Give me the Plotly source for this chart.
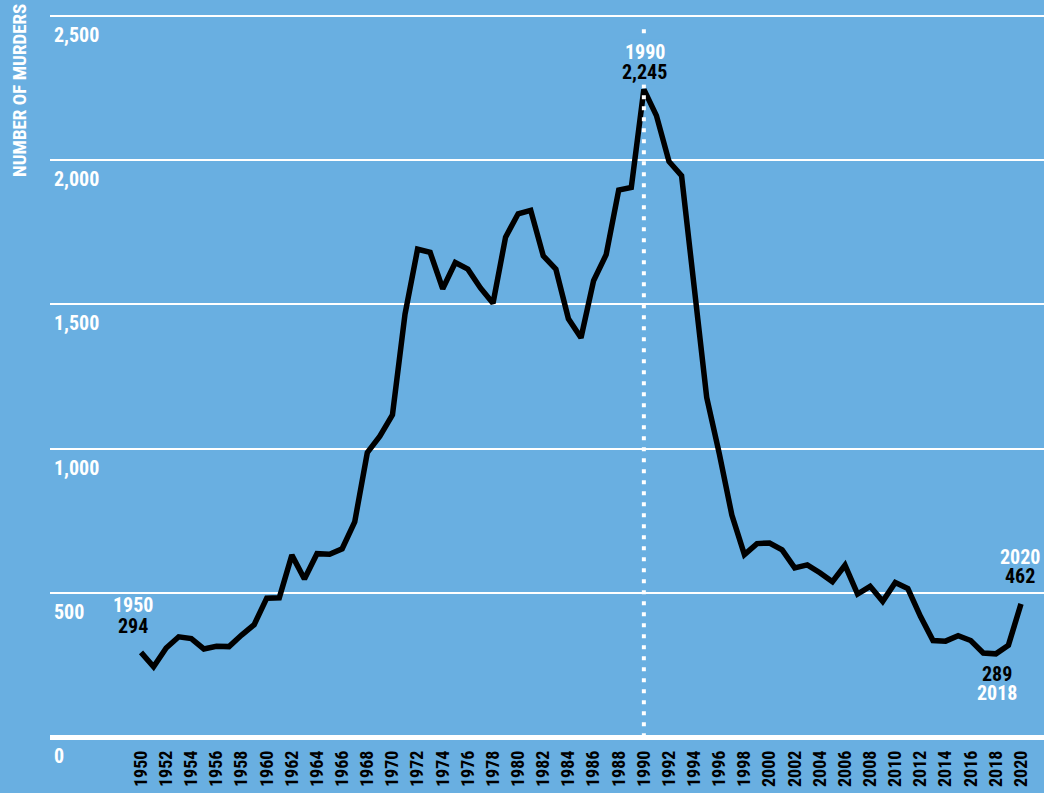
import plotly.graph_objects as go

years = list(range(1950, 2021))
murders = [294, 244, 309, 348, 342, 306, 315, 314, 354, 390,
           482, 483, 631, 548, 636, 634, 653, 746, 986, 1043,
           1117, 1466, 1691, 1680, 1554, 1645, 1622, 1557, 1504, 1733,
           1814, 1826, 1668, 1622, 1450, 1384, 1582, 1672, 1896, 1905,
           2245, 2154, 1995, 1946, 1561, 1177, 983, 770, 633, 671,
           673, 649, 587, 597, 570, 539, 596, 496, 523, 471,
           536, 515, 419, 335, 333, 352, 335, 292, 289, 319,
           462]
x_ticks = list(range(1950, 2021, 2))
y_ticks = [0, 500, 1000, 1500, 2000, 2500]
y_tick_labels = ["0", "500", "1,000", "1,500", "2,000", "2,500"]
y_title = "NUMBER OF MURDERS"

BG = "#69afe1"
FONT = "Roboto Condensed, Roboto, Liberation Sans, sans-serif"

fig = go.Figure()

# dotted vertical marker at the peak year
fig.add_shape(type="line", xref="x", yref="y", x0=1990, x1=1990, y0=0, y1=2475,
              line=dict(color="white", width=4, dash="4px,7px"), layer="above")

fig.add_trace(go.Scatter(x=years, y=murders, mode="lines",
                         line=dict(color="black", width=5.5), hoverinfo="x+y",
                         showlegend=False))

# y tick labels placed below each gridline
for v, t in zip(y_ticks, y_tick_labels):
    fig.add_annotation(x=0, xref="paper", y=v, yref="y", text=t, showarrow=False,
                       xanchor="left", yanchor="middle", xshift=2, yshift=-19,
                       font=dict(family=FONT, size=20, color="white", weight="bold"))

def callout(year, value, top_text, top_color, bot_text, bot_color, top_shift, bot_shift,
            xshift=0, bg=None):
    for txt, col, sh in ((top_text, top_color, top_shift), (bot_text, bot_color, bot_shift)):
        fig.add_annotation(x=year, y=value, text=txt, showarrow=False, xshift=xshift,
                           yshift=sh, xanchor="center", yanchor="middle",
                           bgcolor=bg if bg else "rgba(0,0,0,0)", borderpad=0,
                           font=dict(family=FONT, size=20, color=col, weight="bold"))

callout(1950, murders[0], "1950", "white", f"{murders[0]:,}", "black", 47, 26, xshift=-8)
callout(1990, murders[40], "1990", "white", f"{murders[40]:,}", "black", 37, 17, xshift=1, bg=BG)
callout(2020, murders[70], "2020", "white", f"{murders[70]:,}", "black", 47, 28, xshift=-1)
callout(2018, murders[68], f"{murders[68]:,}", "black", "2018", "white", -20, -39, xshift=1)

fig.add_annotation(x=-30 / 994, xref="paper", y=(743 - 91) / 733, yref="paper",
                   text=y_title, showarrow=False, textangle=-90,
                   xanchor="center", yanchor="middle",
                   font=dict(family=FONT, size=19, color="white", weight="bold"))

fig.update_layout(
    width=1044, height=793,
    margin=dict(l=50, r=0, t=10, b=50, autoexpand=False),
    paper_bgcolor=BG, plot_bgcolor=BG,
    xaxis=dict(range=[1942.76, 2021.83], tickmode="array", tickvals=x_ticks,
               ticktext=[str(y) for y in x_ticks], tickangle=-90, showgrid=False,
               zeroline=False, showline=False, ticks="", ticklabelstandoff=3,
               automargin=False,
               tickfont=dict(family=FONT, size=18, color="black", weight="bold")),
    yaxis=dict(range=[-20, 2520], tickvals=y_ticks, showticklabels=False,
               showgrid=True, gridcolor="white", gridwidth=1.5, automargin=False,
               zeroline=True, zerolinecolor="white", zerolinewidth=5, ticks=""),
)

fig.write_html("out.html", config={"displayModeBar": False},
               post_script="document.body.style.margin='0';")
